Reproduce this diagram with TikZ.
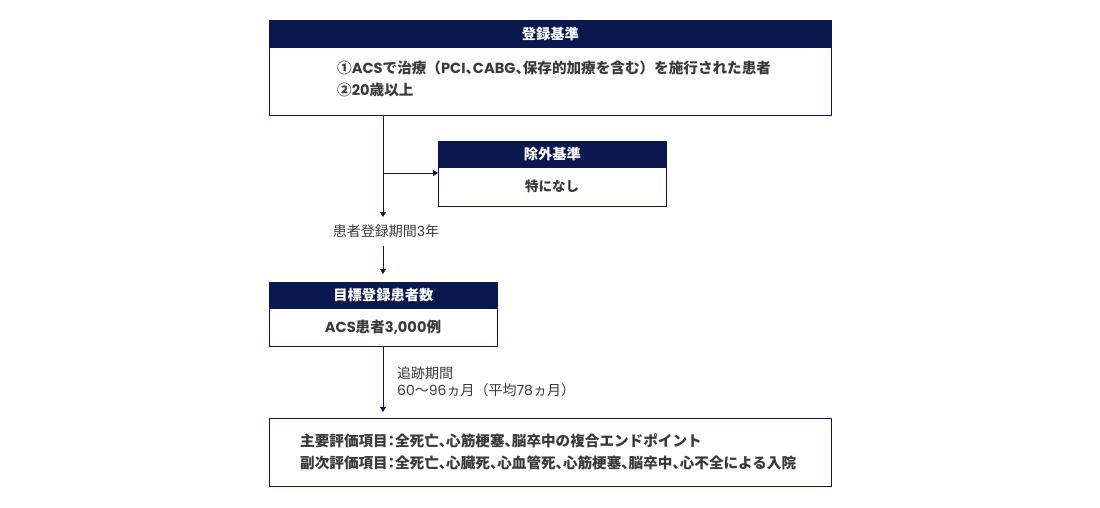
\documentclass[tikz,border=0pt]{standalone}
\usepackage{fontspec}
\setmainfont{Noto Sans CJK JP}[RawFeature=+halt]
\newfontfamily\fw{Noto Sans CJK JP}
\newfontfamily\latf{Poppins}
\newcommand{\lt}[1]{{\latf #1}}
\newcommand{\lpar}{{\fw （}}
\newcommand{\rpar}{{\fw ）}}
\usetikzlibrary{arrows.meta}
\definecolor{navy}{HTML}{0B1850}
\definecolor{txt}{HTML}{3A3A3A}
\tikzset{
  hdr/.style={fill=navy,draw=navy,line width=0.8pt,anchor=north west,inner sep=0pt},
  hdrtxt/.style={text=white,font=\bfseries\fontsize{14.3}{16}\selectfont,inner sep=0pt},
  bodybox/.style={draw=navy,line width=0.9pt,fill=white,anchor=north west,inner sep=0pt},
  lbl/.style={text=txt,font=\fontsize{14}{17}\selectfont,inner sep=0pt},
  blbl/.style={text=txt,font=\bfseries\fontsize{14.6}{22}\selectfont,inner sep=0pt},
  conn/.style={draw=navy,line width=0.9pt,-{Triangle[length=5pt,width=6pt]}},
}
\begin{document}
\begin{tikzpicture}[x=1pt,y=-1pt]
\useasboundingbox (0,0) rectangle (1100,508);
% top box
\node[bodybox,minimum width=562pt,minimum height=95pt] (topb) at (269,20) {};
\node[hdr,minimum width=562pt,minimum height=27pt] (toph) at (269,20) {};
\node[hdrtxt] (topht) at (toph.center) {登録基準};
\node[blbl,align=left,anchor=north west] (topt) at (337,61) {①\lt{ACS}で治療\lpar\lt{PCI}、\lt{CABG}、保存的加療を含む\rpar を施行された患者\\②\lt{20}歳以上};
% exclusion
\node[bodybox,minimum width=228pt,minimum height=65pt] (exb) at (438,141) {};
\node[hdr,minimum width=228pt,minimum height=26pt] (exh) at (438,141) {};
\node[hdrtxt] (exht) at (exh.center) {除外基準};
\node[blbl,font=\bfseries\fontsize{13.5}{16}\selectfont] (ext) at (552,186) {特になし};
% period label
\node[lbl] (per) at (386,231) {患者登録期間\lt{3}年};
% target box
\node[bodybox,minimum width=228pt,minimum height=64pt] (tgb) at (269,282) {};
\node[hdr,minimum width=228pt,minimum height=26pt] (tgh) at (269,282) {};
\node[hdrtxt] (tght) at (tgh.center) {目標登録患者数};
\node[blbl] (tgt) at (383,327) {\lt{ACS}患者\lt{3,000}例};
% follow-up label
\node[lbl,align=left,anchor=west] (fol) at (397,382) {追跡期間\\\lt{60}〜\lt{96}ヵ月\lpar 平均\lt{78}ヵ月\rpar};
% bottom box
\node[bodybox,minimum width=562pt,minimum height=68pt] (botb) at (269,418) {};
\node[blbl,align=left,anchor=west] (bott) at (300,452) {主要評価項目：全死亡、心筋梗塞、脳卒中の複合エンドポイント\\副次評価項目：全死亡、心臓死、心血管死、心筋梗塞、脳卒中、心不全による入院};
% connectors
\coordinate (c1) at (383,115);
\coordinate (c2) at (383,217);
\coordinate (br) at (383,173);
\draw[conn] (c1) -- (c2);
\draw[conn] (br) -- (exb.west |- br);
\coordinate (c3) at (383,246);
\coordinate (c4) at (383,274);
\draw[conn] (c3) -- (c4);
\coordinate (c5) at (383,346);
\coordinate (c6) at (383,412);
\draw[conn] (c5) -- (c6);
\end{tikzpicture}
\end{document}
